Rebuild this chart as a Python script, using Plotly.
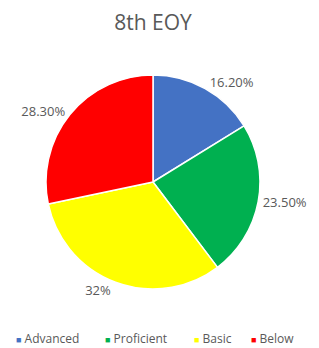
import plotly.graph_objects as go

categories = ["Advanced", "Proficient", "Basic", "Below"]
values = [16.2, 23.5, 32.0, 28.3]
value_labels = ["16.20%", "23.50%", "32%", "28.30%"]
colors = ["#4472C4", "#00B050", "#FFFF00", "#FF0000"]

OFF = 8                      # page body margin
W, H = 319 - OFF, 348 - OFF  # figure size in px
cx, cy, r = 153 - OFF, 182 - OFF, 107
legend_x = [x - OFF for x in (14, 103, 192, 249)]   # left edge of each legend entry
legend_y = 338 - OFF

fig = go.Figure(go.Pie(
    labels=categories,
    values=values,
    text=value_labels,
    textinfo="text",
    textposition="outside",
    sort=False,
    direction="clockwise",
    rotation=0,
    marker=dict(colors=colors, line=dict(color="white", width=1.5)),
    textfont=dict(family="Open Sans", size=13, color="#595959"),
    hoverinfo="label+text",
    showlegend=False,
    domain=dict(x=[(cx - r) / W, (cx + r) / W], y=[(H - cy - r) / H, (H - cy + r) / H]),
))

annotations = []
for name, col, lx in zip(categories, colors, legend_x):
    annotations.append(dict(
        xref="paper", yref="paper", x=lx / W, y=(H - legend_y) / H,
        xanchor="left", yanchor="middle", showarrow=False,
        text=f"<span style='color:{col};font-size:9px'>■</span> {name}",
        font=dict(family="Open Sans", size=12, color="#595959"),
    ))

fig.update_layout(
    width=W, height=H,
    margin=dict(l=0, r=0, t=0, b=0),
    paper_bgcolor="white",
    plot_bgcolor="white",
    title=dict(text="8th EOY", x=cx / W, xanchor="center", y=1 - (23 - OFF) / H, yanchor="middle",
               font=dict(family="Open Sans", size=21, color="#595959")),
    annotations=annotations,
    showlegend=False,
)

fig.write_html("out.html")
